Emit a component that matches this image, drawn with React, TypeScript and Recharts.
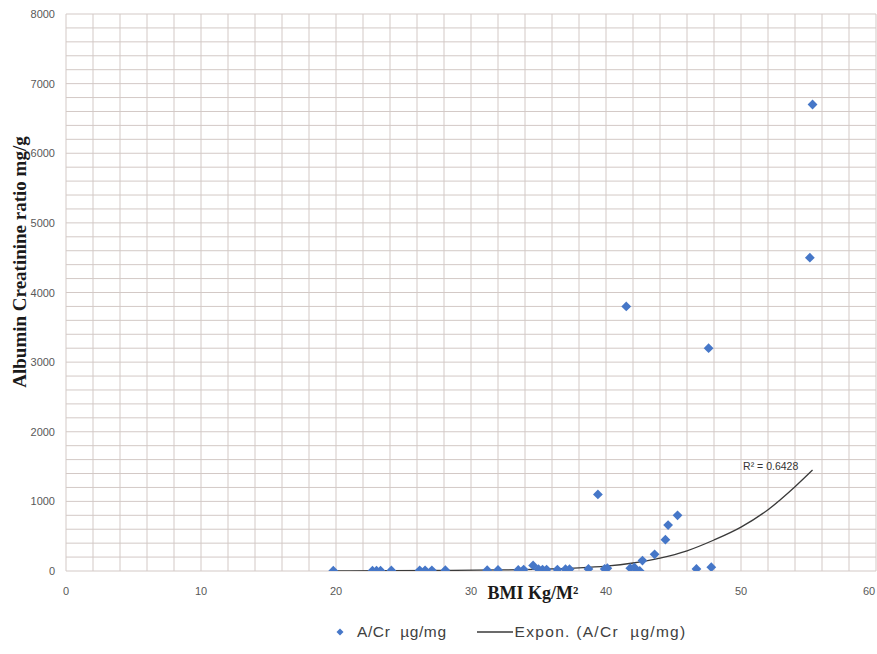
import {
  ComposedChart,
  Scatter,
  Line,
  XAxis,
  YAxis,
  CartesianGrid,
  ReferenceDot,
  Label,
} from 'recharts';

// BMI (kg/m²) of each subject
const bmi = [
  19.8, 22.7, 23.0, 23.3, 24.1, 26.2, 26.6, 27.1, 28.1, 31.2, 32.0, 33.5, 33.9, 34.6, 35.0, 35.3,
  35.6, 36.4, 37.0, 37.3, 38.7, 39.4, 39.9, 40.1, 41.5, 41.8, 42.1, 42.5, 42.7, 43.6, 44.4, 44.6,
  45.3, 46.7, 47.6, 47.8, 55.1, 55.3,
];
// albumin / creatinine ratio
const acr = [
  5, 5, 5, 5, 8, 10, 10, 10, 12, 12, 15, 15, 20, 80, 25, 20,
  20, 20, 25, 25, 30, 1100, 30, 40, 3800, 40, 50, 0, 150, 240, 450, 660,
  800, 30, 3200, 55, 4500, 6700,
];

// exponential trend line
const trendX = [19.8, 24, 28, 32, 36, 38, 40, 42, 44, 46, 48, 50, 52, 54, 55.3];
const trendY = [2, 4, 8, 15, 30, 45, 70, 115, 185, 290, 445, 630, 880, 1210, 1450];

const xTicks = [0, 10, 20, 30, 40, 50, 60];
const yTicks = [0, 1000, 2000, 3000, 4000, 5000, 6000, 7000, 8000];

const X_MAX = 60;
const Y_MAX = 8000;
const gridX = Array.from({ length: 31 }, (_, i) => i * 2);
const gridY = Array.from({ length: 41 }, (_, i) => i * 200);

const BLUE = '#4677c8';
const GRID = '#d3c9c6';
const TEXT = '#595959';

const points = bmi.map((x, i) => ({ x, y: acr[i] }));
const trend = trendX.map((x, i) => ({ x, y: trendY[i] }));

const Diamond = (props: any) => {
  const { cx, cy } = props;
  if (cx == null || cy == null) return null;
  const r = 4.9;
  return (
    <polygon
      points={`${cx},${cy - r} ${cx + r},${cy} ${cx},${cy + r} ${cx - r},${cy}`}
      fill={BLUE}
    />
  );
};

const XTick = (props: any) => {
  const { x, y, payload } = props;
  return (
    <text x={x} y={y} dy={10} textAnchor="middle" fill={TEXT} fontSize={11} fontFamily="Liberation Sans, Arial, sans-serif">
      {payload.value}
    </text>
  );
};

const YTick = (props: any) => {
  const { x, y, payload } = props;
  return (
    <text x={x} y={y} dy={4} textAnchor="end" fill={TEXT} fontSize={11} fontFamily="Liberation Sans, Arial, sans-serif">
      {payload.value}
    </text>
  );
};

export default function App() {
  return (
    <div style={{ position: 'absolute', left: 0, top: 0, width: 877, height: 654, background: '#fff' }}>
      <ComposedChart
        width={877}
        height={654}
        margin={{ top: 14, right: 1, left: 6, bottom: 53 }}
      >
        <CartesianGrid
          stroke={GRID}
          strokeWidth={1}
          horizontalCoordinatesGenerator={({ offset }: any) =>
            gridY.map((v) => offset.top + offset.height * (1 - v / Y_MAX))
          }
          verticalCoordinatesGenerator={({ offset }: any) =>
            gridX.map((v) => offset.left + offset.width * (v / X_MAX))
          }
        />
        <XAxis
          dataKey="x"
          type="number"
          domain={[0, X_MAX]}
          ticks={xTicks}
          axisLine={false}
          tickLine={false}
          tickMargin={8}
          height={30}
          tick={<XTick />}
          allowDataOverflow
        >
          <Label
            content={() => (
              <text
                x={533}
                y={599}
                textAnchor="middle"
                style={{ fontFamily: 'Liberation Serif, Times New Roman, serif', fontWeight: 700, fontSize: 18, fill: '#1a1a1a' }}
              >
                BMI Kg/M²
              </text>
            )}
          />
        </XAxis>
        <YAxis
          type="number"
          domain={[0, Y_MAX]}
          ticks={yTicks}
          axisLine={false}
          tickLine={false}
          tickMargin={5}
          width={60}
          tick={<YTick />}
          allowDataOverflow
        >
          <Label
            content={() => (
              <text
                x={26}
                y={262}
                transform="rotate(-90 26 262)"
                textAnchor="middle"
                style={{ fontFamily: 'Liberation Serif, Times New Roman, serif', fontWeight: 700, fontSize: 19, fill: '#1a1a1a' }}
              >
                Albumin Creatinine ratio mg/g
              </text>
            )}
          />
        </YAxis>
        <Line
          data={trend}
          dataKey="y"
          type="monotone"
          stroke="#3a3a3a"
          strokeWidth={1.3}
          dot={false}
          activeDot={false}
          isAnimationActive={false}
        />
        <Scatter data={points} dataKey="y" shape={<Diamond />} isAnimationActive={false} />
        <ReferenceDot
          x={52.2}
          y={1500}
          r={0}
          stroke="none"
          fill="none"
          label={{
            value: 'R² = 0.6428',
            position: 'center',
            style: { fontSize: 10.5, fill: '#333', fontFamily: 'Liberation Sans, Arial, sans-serif' },
          }}
        />
      </ComposedChart>
      <div
        style={{
          position: 'absolute',
          top: 623,
          left: 333,
          display: 'flex',
          alignItems: 'center',
          fontFamily: 'Liberation Sans, Arial, sans-serif',
          fontSize: 15.5,
          color: '#404040',
          whiteSpace: 'pre',
        }}
      >
        <svg width={14} height={14}>
          <polygon points="7,3.5 10.5,7 7,10.5 3.5,7" fill={BLUE} />
        </svg>
        <span style={{ marginLeft: 10, letterSpacing: 0.6 }}>A/Cr  µg/mg</span>
        <svg width={38} height={14} style={{ marginLeft: 29 }}>
          <line x1={1} y1={7} x2={37} y2={7} stroke="#3a3a3a" strokeWidth={1.3} />
        </svg>
        <span style={{ marginLeft: 1, letterSpacing: 1.3 }}>Expon. (A/Cr  µg/mg)</span>
      </div>
    </div>
  );
}
